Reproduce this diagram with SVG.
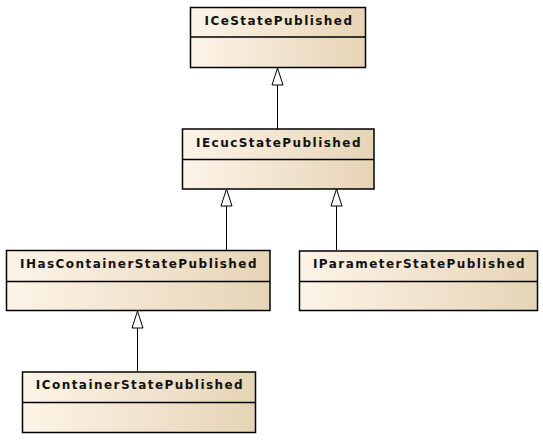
<svg xmlns="http://www.w3.org/2000/svg" width="543" height="440" viewBox="0 0 543 440">
<style>
.box{fill:url(#g);stroke:#000;stroke-width:1.5}
.div{stroke:#000;stroke-width:1.5}
.t{font-family:"DejaVu Sans",sans-serif;font-weight:bold;font-size:12px;letter-spacing:1.45px;fill:#111;text-anchor:middle}
.c{stroke:#000;stroke-width:1;fill:none}
.a{fill:#fff;stroke:#000;stroke-width:1}
</style>
<defs>
<linearGradient id="g" x1="0" y1="0" x2="1" y2="0">
<stop offset="0" stop-color="#fdf4e8"/>
<stop offset="1" stop-color="#e6d4b6"/>
</linearGradient>
</defs>
<g id="connectors">
<path class="c" d="M277.5 129 V85"/><path class="a" d="M277.5 68 L283 85 L272 85 Z"/>
<path class="c" d="M226.5 250 V206"/><path class="a" d="M226.5 189 L232 206 L221 206 Z"/>
<path class="c" d="M336.5 250 V206"/><path class="a" d="M336.5 189 L342 206 L331 206 Z"/>
<path class="c" d="M137.5 371 V328"/><path class="a" d="M137.5 311 L143 328 L132 328 Z"/>
</g>
<g id="ICeStatePublished">
<rect class="box" x="190.5" y="7.5" width="175" height="60"/>
<line class="div" x1="190.5" y1="37" x2="365.5" y2="37"/>
<text class="t" x="279" y="25">ICeStatePublished</text>
</g>
<g id="IEcucStatePublished">
<rect class="box" x="182.5" y="129" width="191.5" height="60"/>
<line class="div" x1="182.5" y1="159.5" x2="374" y2="159.5"/>
<text class="t" x="279" y="147">IEcucStatePublished</text>
</g>
<g id="IHasContainerStatePublished">
<rect class="box" x="6.5" y="250.5" width="263.5" height="60"/>
<line class="div" x1="6.5" y1="281.5" x2="270" y2="281.5"/>
<text class="t" x="139" y="268">IHasContainerStatePublished</text>
</g>
<g id="IParameterStatePublished">
<rect class="box" x="299.5" y="251" width="238" height="59.5"/>
<line class="div" x1="299.5" y1="281.5" x2="537.5" y2="281.5"/>
<text class="t" x="419.5" y="268">IParameterStatePublished</text>
</g>
<g id="IContainerStatePublished">
<rect class="box" x="22.5" y="372" width="233" height="60.5"/>
<line class="div" x1="22.5" y1="402.5" x2="255.5" y2="402.5"/>
<text class="t" x="140" y="389">IContainerStatePublished</text>
</g>
</svg>
